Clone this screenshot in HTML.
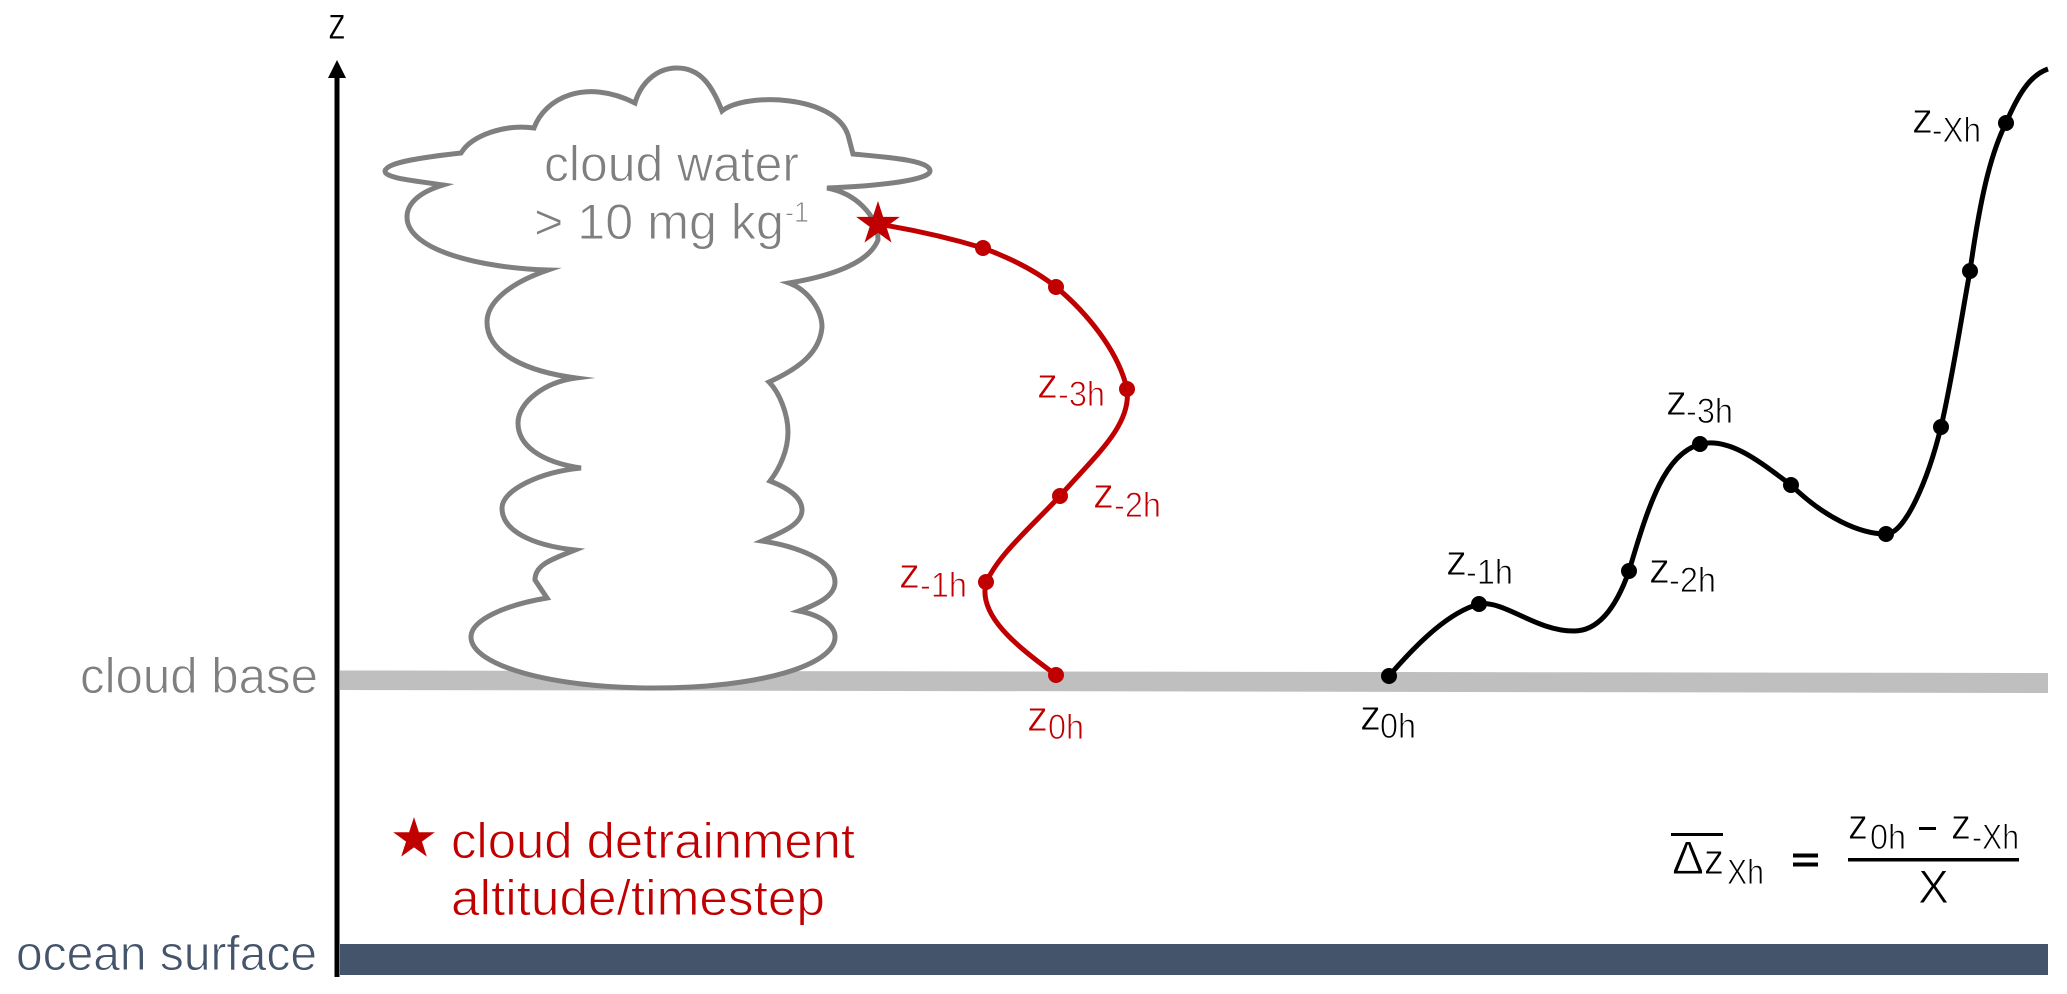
<!DOCTYPE html>
<html>
<head>
<meta charset="utf-8">
<style>
html,body{margin:0;padding:0;background:#fff;}
svg{display:block;}
text{font-family:"Liberation Sans",sans-serif;stroke:#fff;stroke-width:.9px;}
.g{fill:#7f7f7f;font-size:50px;}
.n{fill:#44546a;font-size:49px;}
.r{fill:#c00000;}
.k{fill:#000;}
.z{font-size:44px;}
.s{font-size:35px;}
.l{font-size:50px;}
</style>
</head>
<body>
<svg width="2067" height="994" viewBox="0 0 2067 994" xmlns="http://www.w3.org/2000/svg">
<rect width="2067" height="994" fill="#fff"/>

<!-- ground bands -->
<polygon points="340,670.5 2048,673 2048,693 340,690" fill="#bfbfbf"/>
<rect x="340" y="944" width="1708" height="31" fill="#44546a"/>

<!-- axis -->
<rect x="334.5" y="76" width="5" height="901" fill="#000"/>
<polygon points="337,60 346,78 328,78" fill="#000"/>
<text x="328" y="39" class="k" style="font-size:46px" textLength="18" lengthAdjust="spacingAndGlyphs">z</text>

<!-- cloud -->
<path d="M461 153 C 472 135, 505 124, 534 128 C 545 98, 585 78, 635 103 C 640 85, 655 68, 677 68 C 700 68, 712 85, 722 111 C 745 92, 835 95, 848 135 L 853 154 C 885 157, 930 160, 930 171 C 930 180, 880 186, 827 188 C 855 193, 878 215, 878 240 C 868 265, 825 277, 789 283 C 808 290, 822 310, 822 327 C 820 352, 800 368, 769 382 C 780 393, 788 415, 788 432 C 788 450, 780 468, 770 481 C 788 488, 802 497, 802 510 C 802 525, 780 533, 762 541 C 795 546, 835 560, 835 582 C 835 597, 815 605, 799 611 C 820 615, 835 625, 835 637 C 835 665, 760 688, 654 688 C 550 688, 471 665, 471 637 C 471 620, 505 605, 547 598 L 535 580 C 535 565, 550 560, 575 550 C 530 545, 502 530, 502 508 C 502 490, 540 472, 581 468 C 540 462, 518 445, 518 423 C 518 402, 545 382, 576 378 C 530 372, 487 355, 487 322 C 487 302, 510 283, 548 270 C 480 268, 407 250, 407 217 C 407 203, 420 192, 443 185 C 410 180, 385 178, 385 171 C 387 162, 425 157, 461 153 Z" fill="#fff" stroke="#7f7f7f" stroke-width="5" stroke-linejoin="miter" stroke-miterlimit="8"/>
<text x="544" y="181" class="g" textLength="255" lengthAdjust="spacingAndGlyphs">cloud water</text>
<text x="534" y="239" class="g" textLength="250" lengthAdjust="spacingAndGlyphs">&gt; 10 mg kg</text>
<text x="785" y="222" class="g" style="font-size:29px" textLength="24" lengthAdjust="spacingAndGlyphs">-1</text>

<!-- red trajectory -->
<path d="M878 224 C 915 230, 950 238, 983 248 C 1010 258, 1035 270, 1056 287 C 1086 312, 1118 350, 1127 389 C 1132 425, 1095 456, 1060 496 C 1030 528, 998 555, 986 583 C 978 615, 1015 645, 1056 675" fill="none" stroke="#c00000" stroke-width="5"/>
<g fill="#c00000">
<circle cx="983" cy="248" r="8"/>
<circle cx="1056" cy="287" r="8"/>
<circle cx="1127" cy="389" r="8"/>
<circle cx="1060" cy="496" r="8"/>
<circle cx="986" cy="582" r="8"/>
<circle cx="1056" cy="675" r="8"/>
<polygon transform="translate(878,224)" points="0,-23 5.16,-7.1 21.87,-7.11 8.35,2.71 13.52,18.6 0,8.78 -13.52,18.6 -8.35,2.71 -21.87,-7.11 -5.16,-7.1"/>
<polygon transform="translate(414,839) scale(.95)" points="0,-23 5.16,-7.1 21.87,-7.11 8.35,2.71 13.52,18.6 0,8.78 -13.52,18.6 -8.35,2.71 -21.87,-7.11 -5.16,-7.1"/>
</g>

<!-- black trajectory -->
<path d="M1389 676 C 1420 640, 1450 612, 1479 604 C 1505 600, 1535 631, 1574 631 C 1600 631, 1617 605, 1629 571 C 1650 500, 1665 455, 1700 444 C 1730 437, 1760 462, 1791 485 C 1825 518, 1860 534, 1886 534 C 1905 534, 1928 480, 1941 427 C 1952 380, 1961 320, 1970 271 C 1980 200, 1990 155, 2006 123 C 2018 95, 2030 75, 2048 69" fill="none" stroke="#000" stroke-width="5"/>
<g fill="#000">
<circle cx="1389" cy="676" r="8"/>
<circle cx="1479" cy="604" r="8"/>
<circle cx="1629" cy="571" r="8"/>
<circle cx="1700" cy="444" r="8"/>
<circle cx="1791" cy="485" r="8"/>
<circle cx="1886" cy="534" r="8"/>
<circle cx="1941" cy="427" r="8"/>
<circle cx="1970" cy="271" r="8"/>
<circle cx="2006" cy="123" r="8"/>
</g>

<!-- side labels -->
<text x="80" y="693" class="g" textLength="238" lengthAdjust="spacingAndGlyphs">cloud base</text>
<text x="16" y="970" class="n" textLength="301" lengthAdjust="spacingAndGlyphs">ocean surface</text>

<!-- legend -->
<text x="451" y="858" class="r l" textLength="404" lengthAdjust="spacingAndGlyphs">cloud detrainment</text>
<text x="451" y="915" class="r l" textLength="374" lengthAdjust="spacingAndGlyphs">altitude/timestep</text>

<!-- red labels -->
<text x="1037" y="398" class="r z" textLength="21" lengthAdjust="spacingAndGlyphs">z</text><text x="1058" y="406" class="r s" textLength="47" lengthAdjust="spacingAndGlyphs">-3h</text>
<text x="1093" y="508" class="r z" textLength="21" lengthAdjust="spacingAndGlyphs">z</text><text x="1114" y="517" class="r s" textLength="47" lengthAdjust="spacingAndGlyphs">-2h</text>
<text x="899" y="588" class="r z" textLength="21" lengthAdjust="spacingAndGlyphs">z</text><text x="920" y="597" class="r s" textLength="47" lengthAdjust="spacingAndGlyphs">-1h</text>
<text x="1027" y="731" class="r z" textLength="21" lengthAdjust="spacingAndGlyphs">z</text><text x="1048" y="739" class="r s" textLength="36" lengthAdjust="spacingAndGlyphs">0h</text>

<!-- black labels -->
<text x="1360" y="730" class="k z" textLength="21" lengthAdjust="spacingAndGlyphs">z</text><text x="1380" y="738" class="k s" textLength="36" lengthAdjust="spacingAndGlyphs">0h</text>
<text x="1446" y="575" class="k z" textLength="21" lengthAdjust="spacingAndGlyphs">z</text><text x="1466" y="584" class="k s" textLength="47" lengthAdjust="spacingAndGlyphs">-1h</text>
<text x="1649" y="583" class="k z" textLength="21" lengthAdjust="spacingAndGlyphs">z</text><text x="1669" y="592" class="k s" textLength="47" lengthAdjust="spacingAndGlyphs">-2h</text>
<text x="1666" y="415" class="k z" textLength="21" lengthAdjust="spacingAndGlyphs">z</text><text x="1686" y="423" class="k s" textLength="47" lengthAdjust="spacingAndGlyphs">-3h</text>
<text x="1912" y="133" class="k z" textLength="21" lengthAdjust="spacingAndGlyphs">z</text><text x="1932" y="142" class="k s" textLength="49" lengthAdjust="spacingAndGlyphs">-Xh</text>

<!-- equation -->
<rect x="1671" y="833" width="52" height="3" fill="#000"/>
<text x="1672" y="874" class="k" style="font-size:47px" textLength="32" lengthAdjust="spacingAndGlyphs">Δ</text>
<text x="1704" y="874" class="k z" textLength="20" lengthAdjust="spacingAndGlyphs">z</text>
<text x="1727" y="884" class="k s" textLength="37" lengthAdjust="spacingAndGlyphs">Xh</text>
<rect x="1793" y="853.500" width="25" height="4" fill="#000"/>
<rect x="1793" y="862.500" width="25" height="4" fill="#000"/>
<rect x="1848" y="858" width="171" height="3.500" fill="#000"/>
<text x="1848" y="839" class="k z" textLength="20" lengthAdjust="spacingAndGlyphs">z</text>
<text x="1870" y="849" class="k s" textLength="36" lengthAdjust="spacingAndGlyphs">0h</text>
<rect x="1919" y="827" width="17" height="3" fill="#000"/>
<text x="1951" y="839" class="k z" textLength="20" lengthAdjust="spacingAndGlyphs">z</text>
<text x="1972" y="849" class="k s" textLength="47" lengthAdjust="spacingAndGlyphs">-Xh</text>
<text x="1918" y="903" class="k" style="font-size:47px" textLength="31" lengthAdjust="spacingAndGlyphs">X</text>
</svg>
</body>
</html>
